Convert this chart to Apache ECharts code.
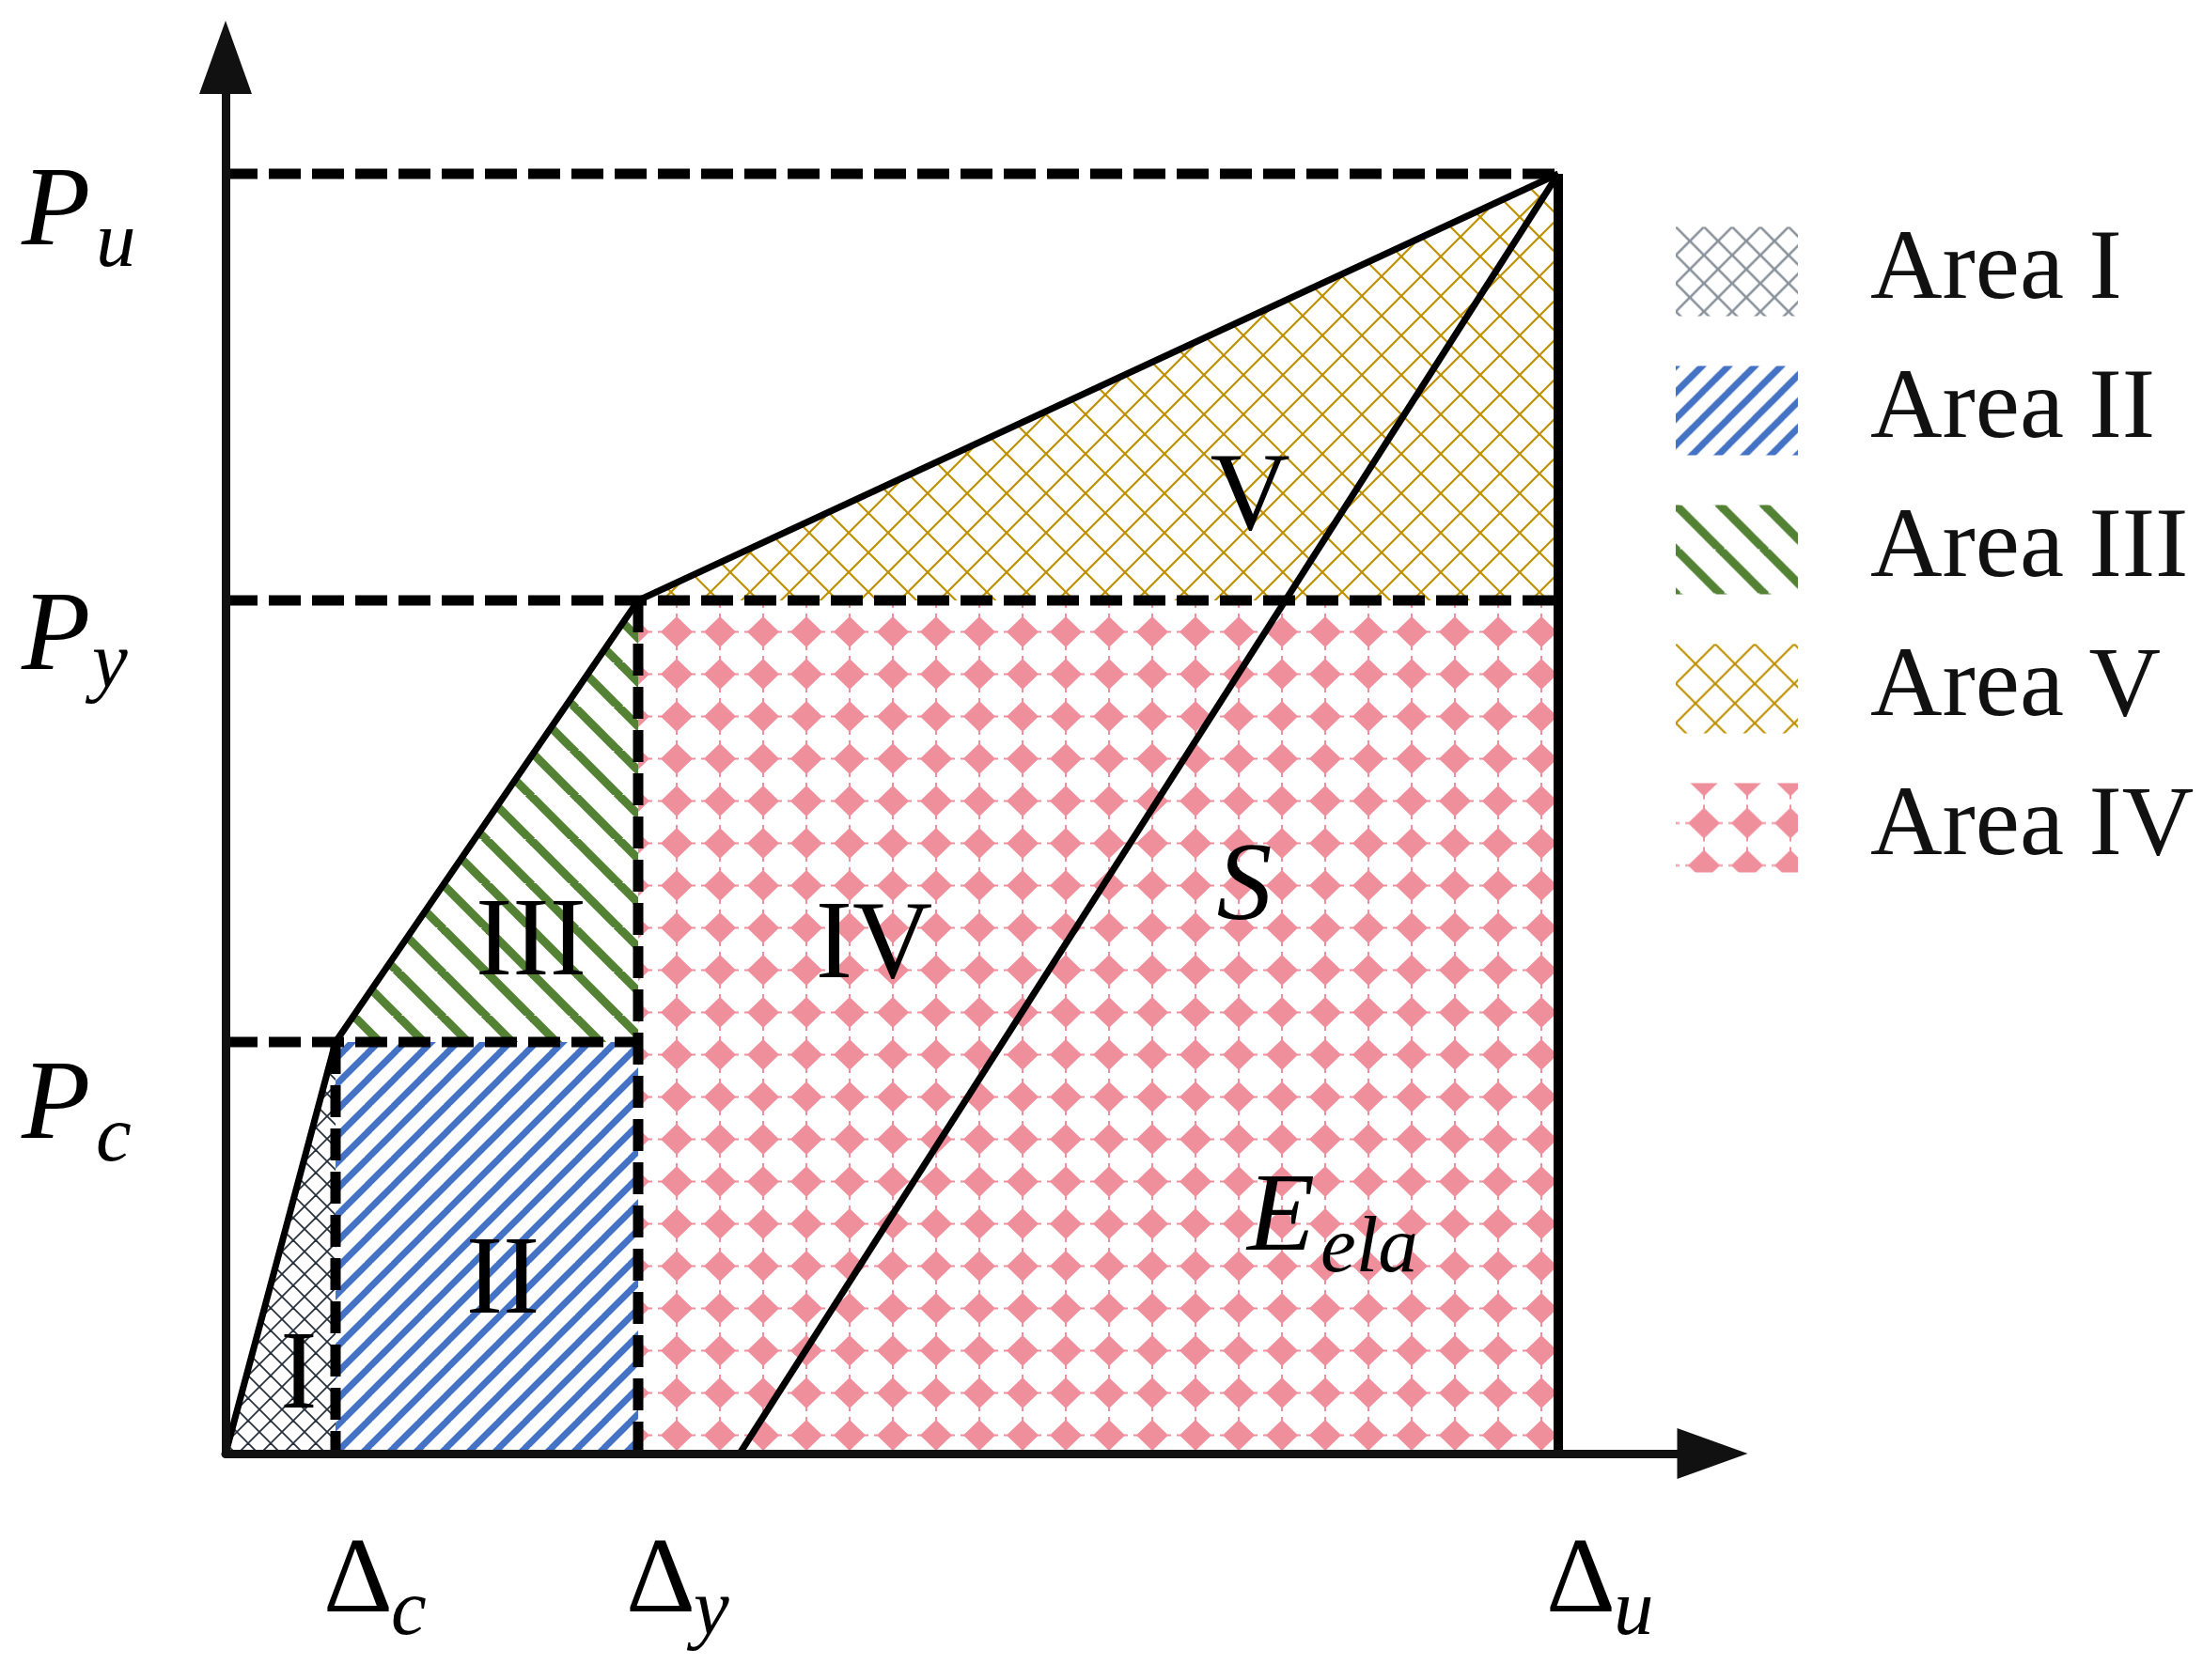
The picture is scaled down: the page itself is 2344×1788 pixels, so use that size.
<!DOCTYPE html>
<html>
<head>
<meta charset="utf-8">
<title>Energy areas</title>
<script src="https://cdn.jsdelivr.net/npm/echarts@6/dist/echarts.min.js"></script>
<style>
html, body { margin: 0; padding: 0; background: #fff; }
#main { width: 2344px; height: 1788px; }
</style>
</head>
<body>
<div id="main"></div>
<script>
// characteristic points (c = cracking, y = yield, u = ultimate)
const pointKeys = ['c', 'y', 'u'];
const dispValues = [1.17, 4.39, 14.18];
const loadValues = [4.38, 9.08, 13.62];
const residualDisp = 5.47;
const axisMax = [15.82, 14.86];
const areaNames = ['Area I', 'Area II', 'Area III', 'Area V', 'Area IV'];

const [dc, dy, du] = dispValues;
const [pc, py, pu] = loadValues;

// region outlines built from the characteristic points
const polygons = {
	'Area I': [[0, 0], [dc, pc], [dc, 0]],
	'Area II': [[dc, 0], [dc, pc], [dy, pc], [dy, 0]],
	'Area III': [[dc, pc], [dy, py], [dy, pc]],
	'Area V': [[dy, py], [du, pu], [du, py]],
	'Area IV': [[dy, 0], [dy, py], [du, py], [du, 0]]
};
const skeleton = [[0, 0], [dc, pc], [dy, py], [du, pu]];
const unloading = [[residualDisp, 0], [du, pu]];
const ultimateDrop = [[du, pu], [du, 0]];
const guides = [
	[[0, pu], [du, pu]],
	[[0, py], [du, py]],
	[[0, pc], [dy, pc]],
	[[dc, pc], [dc, 0]],
	[[dy, py], [dy, 0]]
];

// ---- hatch tiles ----
function tile (w, h, draw) {
	let c = document.createElement('canvas');
	c.width = w;
	c.height = h;
	draw(c.getContext('2d'), w, h);
	return c;
}
function diag (ctx, T, dir) {
	for (let k = -1; k <= 1; k++) {
		ctx.beginPath();
		if (dir > 0) {
			ctx.moveTo(k * T - 2, T + 2);
			ctx.lineTo(k * T + T + 2, -2);
		} else {
			ctx.moveTo(k * T - 2, -2);
			ctx.lineTo(k * T + T + 2, T + 2);
		}
		ctx.stroke();
	}
}
function stripes (T, width, color, dir) {
	return tile(T, T, (ctx) => {
		ctx.strokeStyle = color;
		ctx.lineWidth = width;
		diag(ctx, T, dir);
	});
}
function lattice (T, width, color) {
	return tile(T, T, (ctx) => {
		ctx.strokeStyle = color;
		ctx.lineWidth = width;
		diag(ctx, T, 1);
		diag(ctx, T, -1);
	});
}
function diamonds (color) {
	return tile(46, 45, (ctx) => {
		ctx.fillStyle = color;
		ctx.beginPath();
		ctx.moveTo(23, 6);
		ctx.lineTo(40, 22.5);
		ctx.lineTo(23, 39);
		ctx.lineTo(6, 22.5);
		ctx.closePath();
		ctx.fill();
		// small tips, as in the printed hatch
		ctx.fillRect(22, 3, 2, 39);
		ctx.fillRect(3, 21.5, 40, 2);
	});
}
const fills = {
	'Area I': { image: lattice(24, 1.8, '#27313e'), repeat: 'repeat' },
	'Area II': { image: stripes(28, 7, '#4472c4', 1), repeat: 'repeat' },
	'Area III': { image: stripes(47, 9, '#548235', -1), repeat: 'repeat' },
	'Area V': { image: lattice(42, 2.2, '#bf9000'), repeat: 'repeat' },
	'Area IV': { image: diamonds('#ef8f9c'), repeat: 'repeat', x: 7, y: 20 }
};
const legendAreaI = { image: lattice(30, 2.6, '#8a929c'), repeat: 'repeat' };

const areaSeries = areaNames.map(name => ({
	name: name,
	type: 'custom',
	coordinateSystem: 'cartesian2d',
	silent: true,
	z: 1,
	data: [0],
	itemStyle: { color: fills[name] },
	renderItem: (params, api) => ({
		type: 'polygon',
		shape: { points: polygons[name].map(p => api.coord(p)) },
		style: { fill: fills[name], stroke: null }
	})
}));

function segment (points, lineStyle, z) {
	return { type: 'line', data: points, symbol: 'none', silent: true, z: z, lineStyle: lineStyle };
}
const dashStyle = { color: '#000', width: 11, type: [34, 12], cap: 'butt' };
const lineSeries = guides.map(g => segment(g, dashStyle, 3)).concat([
	segment(skeleton, { color: '#000', width: 7, join: 'miter' }, 4),
	segment(ultimateDrop, { color: '#000', width: 10 }, 4),
	segment(unloading, { color: '#000', width: 7 }, 4)
]);

let chart = echarts.init(document.getElementById('main'));
let option = {
	backgroundColor: '#fff',
	animation: false,
	grid: { left: 240, right: 522, top: 61, bottom: 241, containLabel: false, outerBoundsMode: 'none' },
	xAxis: {
		type: 'value', min: 0, max: axisMax[0], z: 6,
		axisLine: { show: true, symbol: ['none', 'triangle'], symbolSize: [54, 75], lineStyle: { color: '#111', width: 9 } },
		axisTick: { show: false }, axisLabel: { show: false }, splitLine: { show: false }
	},
	yAxis: {
		type: 'value', min: 0, max: axisMax[1], z: 6,
		axisLine: { show: true, symbol: ['none', 'triangle'], symbolSize: [56, 78], lineStyle: { color: '#111', width: 9 } },
		axisTick: { show: false }, axisLabel: { show: false }, splitLine: { show: false }
	},
	legend: {
		data: areaNames.map(n => n === 'Area I' ? { name: n, itemStyle: { color: legendAreaI } } : n),
		orient: 'vertical', left: 1778, top: 231,
		icon: 'rect', itemWidth: 130, itemHeight: 95, itemGap: 42,
		selectedMode: false,
		textStyle: { fontFamily: 'Liberation Serif', fontSize: 106, color: '#111', lineHeight: 95, padding: [0, 0, 0, 72] }
	},
	series: areaSeries.concat(lineSeries)
};
chart.setOption(option);

// ---- annotation text ----
function txt (text, x, y, size, italic, align) {
	let a = align || 'left';
	return {
		type: 'text', x: x, y: y, silent: true, z: 20,
		style: {
			text: text, fill: '#000',
			font: (italic ? 'italic ' : '') + size + 'px "Liberation Serif"',
			align: a, textAlign: a, verticalAlign: 'middle', textVerticalAlign: 'middle'
		}
	};
}
let els = [];
const axisY = chart.convertToPixel({ gridIndex: 0 }, [0, 0])[1];
const yMainDy = [70, 41, 43];
const ySubDy = [104, 70, 76];
const ySubX = [102, 98, 102];
pointKeys.forEach((k, i) => {
	let tx = chart.convertToPixel({ gridIndex: 0 }, [dispValues[i], 0])[0];
	els.push(txt('Δ', tx - 13, axisY + 138, 115, false));
	els.push(txt(k, tx + 59, axisY + 170, 85, true));
	let ty = chart.convertToPixel({ gridIndex: 0 }, [0, loadValues[i]])[1];
	els.push(txt('P', 23, ty + yMainDy[i], 120, true));
	els.push(txt(k, ySubX[i], ty + ySubDy[i], 85, true));
});
els.push(txt('I', 318, 1467, 118, false, 'center'));
els.push(txt('II', 535, 1366, 118, false, 'center'));
els.push(txt('III', 565, 1006, 118, false, 'center'));
els.push(txt('IV', 930, 1009, 118, false, 'center'));
els.push(txt('V', 1330, 532, 118, false, 'center'));
els.push(txt('S', 1324, 947, 118, true, 'center'));
els.push(txt('E', 1327, 1299, 118, true));
els.push(txt('ela', 1405, 1331, 85, true));
chart.setOption({ graphic: { elements: els } });
</script>
</body>
</html>
